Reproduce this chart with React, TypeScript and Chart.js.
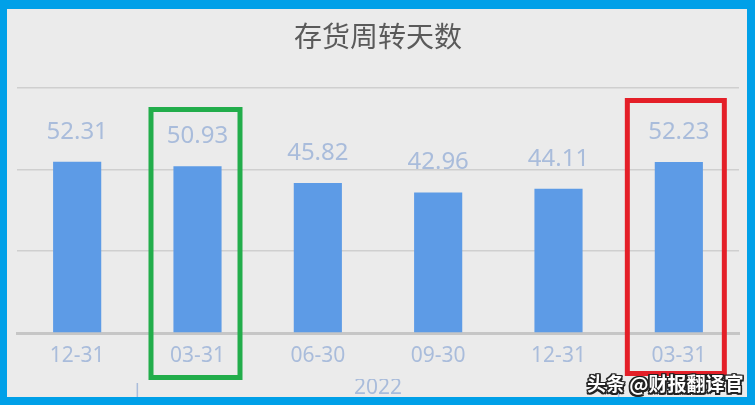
import React, { useEffect, useRef } from 'react';
import Chart from 'chart.js/auto';

const categories = ['12-31', '03-31', '06-30', '09-30', '12-31', '03-31'];
const categoryYears = ['', '2022', '2022', '2022', '2022', '2023'];
const turnoverDays = [52.31, 50.93, 45.82, 42.96, 44.11, 52.23];
const yTicks = [0, 25, 50, 75];
const highlightedIndexes = [1, 5];

// year groups derived from the category years
const yearGroups: { label: string; start: number; end: number }[] = [];
categoryYears.forEach((y, i) => {
  const last = yearGroups[yearGroups.length - 1];
  if (last && last.label === y) last.end = i;
  else yearGroups.push({ label: y, start: i, end: i });
});

const labelColor = '#a9bcdb';
const boxStyles = [
  { color: '#22ad4b', left: 46.5, right: 42.5, top: 100.5, bottom: 368.5 },
  { color: '#e41f28', left: 51.5, right: 45.5, top: 91.5, bottom: 364.5 },
];

const valueLabels = {
  id: 'valueLabels',
  afterDatasetsDraw(chart: any) {
    const ctx = chart.ctx;
    const meta = chart.getDatasetMeta(0);
    ctx.save();
    ctx.font = '24px "Noto Sans"';
    ctx.fillStyle = labelColor;
    ctx.textAlign = 'center';
    ctx.textBaseline = 'middle';
    meta.data.forEach((bar: any, i: number) => {
      ctx.fillText(turnoverDays[i].toFixed(2), bar.x, bar.y - 30);
    });
    ctx.restore();
  },
};

const yearSeparators = {
  id: 'yearSeparators',
  afterDraw(chart: any) {
    const x2 = chart.scales.x2;
    const ctx = chart.ctx;
    ctx.save();
    ctx.strokeStyle = labelColor;
    ctx.lineWidth = 1.5;
    yearGroups.slice(1).forEach((g) => {
      const px = x2.getPixelForValue(g.start - 0.5);
      ctx.beginPath();
      ctx.moveTo(px, x2.top + 4);
      ctx.lineTo(px, chart.height);
      ctx.stroke();
    });
    ctx.restore();
  },
};

const highlightBoxes = {
  id: 'highlightBoxes',
  afterDraw(chart: any) {
    const x = chart.scales.x;
    const ctx = chart.ctx;
    ctx.save();
    ctx.lineWidth = 5;
    highlightedIndexes.forEach((idx, k) => {
      const s = boxStyles[k];
      const px = x.getPixelForValue(idx);
      ctx.strokeStyle = s.color;
      ctx.strokeRect(px - s.left, s.top, s.left + s.right, s.bottom - s.top);
    });
    ctx.restore();
  },
};

function TurnoverChart() {
  const chartRef = useRef<HTMLCanvasElement>(null);
  const chartInstance = useRef<Chart | null>(null);

  useEffect(() => {
    if (!chartRef.current) return;
    if (chartInstance.current) chartInstance.current.destroy();
    const ctx = chartRef.current.getContext('2d');
    if (!ctx) return;

    chartInstance.current = new Chart(ctx, {
      type: 'bar',
      data: {
        labels: categories,
        datasets: [
          {
            label: '存货周转天数',
            data: turnoverDays,
            backgroundColor: '#5d9be6',
            borderWidth: 0,
            categoryPercentage: 1,
            barPercentage: 0.4,
          },
        ],
      },
      plugins: [valueLabels, yearSeparators, highlightBoxes],
      options: {
        animation: false,
        responsive: true,
        maintainAspectRatio: false,
        layout: { padding: { left: 10, right: 8, top: 0, bottom: 0 } },
        plugins: {
          legend: { display: false },
          tooltip: { enabled: false },
          title: {
            display: true,
            text: '存货周转天数',
            color: '#5a5a5a',
            font: { size: 28, weight: 'normal', family: '"Noto Sans CJK SC"', lineHeight: 1.2 },
            padding: { top: 11, bottom: 34 },
          },
        },
        scales: {
          x: {
            weight: 0,
            grid: { display: true, color: 'rgba(0,0,0,0)', drawTicks: false },
            border: { display: true, color: '#c6c6c6', width: 3 },
            ticks: {
              color: labelColor,
              font: { size: 21, family: '"Noto Sans"', lineHeight: '22px' },
              padding: 12,
              maxRotation: 0,
              autoSkip: false,
            },
          },
          x2: {
            type: 'category',
            labels: categories,
            position: 'bottom',
            offset: true,
            weight: 1,
            grid: { display: false, drawTicks: false },
            border: { display: false },
            afterBuildTicks: (axis: any) => {
              axis.ticks = yearGroups.map((g) => ({ value: (g.start + g.end) / 2 }));
            },
            ticks: {
              color: labelColor,
              font: { size: 21, family: '"Noto Sans"', lineHeight: '22px' },
              padding: -2,
              maxRotation: 0,
              autoSkip: false,
              callback: (_v: any, i: number) => yearGroups[i].label,
            },
          },
          y: {
            min: 0,
            max: 75,
            afterBuildTicks: (axis: any) => {
              axis.ticks = yTicks.map((v) => ({ value: v }));
            },
            grid: { color: '#cfcfcf', lineWidth: 1.5, drawTicks: false },
            border: { display: false },
            ticks: { display: false },
          },
        },
      } as any,
    });

    return () => {
      if (chartInstance.current) {
        chartInstance.current.destroy();
        chartInstance.current = null;
      }
    };
  }, []);

  return (
    <div style={{ position: 'relative', width: '100%', height: '100%' }}>
      <canvas ref={chartRef} aria-label="存货周转天数" role="img"></canvas>
    </div>
  );
}

export default function App() {
  return (
    <div
      style={{
        position: 'fixed',
        left: 0,
        top: 0,
        width: 755,
        height: 405,
        boxSizing: 'border-box',
        borderStyle: 'solid',
        borderColor: '#00a0e8',
        borderWidth: '9px 8px 8px 7px',
        background: '#ebebeb',
      }}
    >
      <TurnoverChart />
      <div
        style={{
          position: 'absolute',
          left: 580,
          top: 364,
          fontFamily: '"Noto Sans CJK SC"',
          fontSize: 19,
          fontWeight: 'bold',
          lineHeight: '20px',
          color: '#ffffff',
          whiteSpace: 'nowrap',
          textShadow:
            '1.5px 1.5px 0 #222, -1.5px -1.5px 0 #222, 1.5px -1.5px 0 #222, -1.5px 1.5px 0 #222, 0 1.5px 0 #222, 0 -1.5px 0 #222, 1.5px 0 0 #222, -1.5px 0 0 #222',
        }}
      >
        头条 @财报翻译官
      </div>
    </div>
  );
}
